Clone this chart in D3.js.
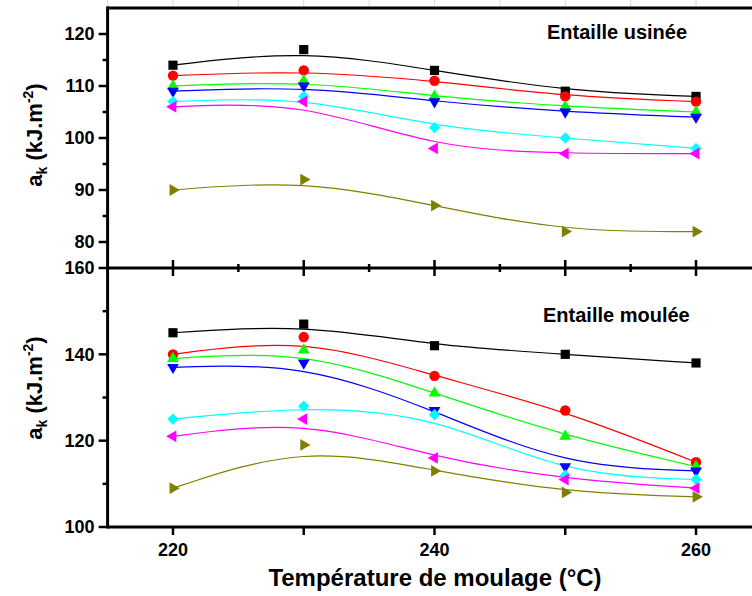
<!DOCTYPE html>
<html>
<head>
<meta charset="utf-8">
<title>Résilience en fonction de la température de moulage</title>
<style>
body { margin: 0; background: #fff; }
svg { display: block; }
text { font-family: "Liberation Sans", Arial, sans-serif; font-weight: bold; fill: #000; }
</style>
</head>
<body>
<svg id="chart" width="752" height="596"></svg>
<script src="https://d3js.org/d3.v7.min.js"></script>
<script>
// temperatures de moulage (°C)
var temps = [220, 230, 240, 250, 260];
var xTicks = [220, 230, 240, 250, 260];
var xLabels = [220, 240, 260];

// Entaille usinée  (a_k, kJ/m²)
var usinee1 = [114, 117, 113, 109, 108];
var usinee2 = [112, 113, 111, 108, 107];
var usinee3 = [110, 111, 108, 106, 105];
var usinee4 = [109, 110, 107, 105, 104];
var usinee5 = [107, 108, 102, 100, 98];
var usinee6 = [106, 107, 98, 97, 97];
var usinee7 = [90, 92, 87, 82, 82];

// Entaille moulée
var moulee1 = [145, 147, 142, 140, 138];
var moulee2 = [140, 144, 135, 127, 115];
var moulee3 = [139, 141, 131, 121, 114];
var moulee4 = [137, 138, 127, 114, 113];
var moulee5 = [125, 128, 126, 112, 111];
var moulee6 = [121, 125, 116, 111, 109];
var moulee7 = [109, 119, 113, 108, 107];

var topTicks = [80, 90, 100, 110, 120];
var botTicks = [100, 120, 140, 160];

var colors = ["#000000", "#ff0000", "#00ff00", "#0000ff", "#00ffff", "#ff00ff", "#808000"];
var shapes = ["square", "circle", "up", "down", "diamond", "left", "right"];

var svg = d3.select("#chart");

var x = d3.scaleLinear().domain([215, 265]).range([107.6, 761.4]);
var yTop = d3.scaleLinear().domain([75, 125]).range([268, 8]);
var yBot = d3.scaleLinear().domain([100, 160]).range([527, 268]);

function symbolPath(shape) {
    var sym = d3.symbol();
    if (shape == "square") return sym.type(d3.symbolSquare).size(84)();
    if (shape == "circle") return sym.type(d3.symbolCircle).size(85)();
    if (shape == "diamond") return sym.type(d3.symbolSquare).size(64)();
    return sym.type(d3.symbolTriangle).size(60)();
}
function symbolRotate(shape) {
    if (shape == "down") return 180;
    if (shape == "left") return -90;
    if (shape == "right") return 90;
    if (shape == "diamond") return 45;
    return 0;
}

function drawPanel(series, y) {
    var g = svg.append("g");
    var line = d3.line()
        .x(function(d, i) { return x(temps[i]); })
        .y(function(d) { return y(d); })
        .curve(d3.curveBasis);

    series.forEach(function(vals, k) {
        g.append("path")
            .attr("d", line(vals))
            .style("fill", "none")
            .style("stroke", colors[k])
            .style("stroke-width", 1.2);
    });
    series.forEach(function(vals, k) {
        g.selectAll(null)
            .data(vals)
            .enter()
            .append("path")
            .attr("d", symbolPath(shapes[k]))
            .attr("transform", function(d, i) {
                return "translate(" + x(temps[i]) + "," + y(d) + ") rotate(" + symbolRotate(shapes[k]) + ")";
            })
            .style("fill", colors[k]);
    });
}

drawPanel([usinee1, usinee2, usinee3, usinee4, usinee5, usinee6, usinee7], yTop);
drawPanel([moulee1, moulee2, moulee3, moulee4, moulee5, moulee6, moulee7], yBot);

// faint top ticks
svg.append("g")
    .selectAll("line")
    .data(d3.range(215, 266, 5))
    .enter().append("line")
    .attr("x1", d => x(d)).attr("x2", d => x(d))
    .attr("y1", 0).attr("y2", 8)
    .style("stroke", "#d8d8d8").style("stroke-width", 1);

// axes
var frame = svg.append("g").style("stroke", "#000").style("stroke-width", 3).style("fill", "none");
frame.append("line").attr("x1", x(215)).attr("x2", x(265)).attr("y1", yTop(125)).attr("y2", yTop(125));
frame.append("line").attr("x1", x(215)).attr("x2", x(265)).attr("y1", yTop(75)).attr("y2", yTop(75));
frame.append("line").attr("x1", x(215)).attr("x2", x(265)).attr("y1", yBot(100)).attr("y2", yBot(100));
frame.append("line").attr("x1", x(215)).attr("x2", x(215)).attr("y1", yTop(125) - 1.5).attr("y2", yBot(100) + 1.5);

function yAxis(scale, major, minor) {
    var g = svg.append("g").attr("transform", "translate(" + x(215) + ",0)");
    major.forEach(function(v) {
        g.append("line").attr("x1", -9).attr("x2", 0).attr("y1", scale(v)).attr("y2", scale(v))
            .style("stroke", "#000").style("stroke-width", 2.5);
        g.append("text").attr("x", -13).attr("y", scale(v)).attr("dy", "0.36em")
            .attr("text-anchor", "end").style("font-size", "18px").text(v);
    });
    minor.forEach(function(v) {
        g.append("line").attr("x1", -5).attr("x2", 0).attr("y1", scale(v)).attr("y2", scale(v))
            .style("stroke", "#000").style("stroke-width", 2.5);
    });
}
yAxis(yTop, topTicks, [85, 95, 105, 115]);
yAxis(yBot, botTicks, [110, 130, 150]);

// ticks on the boundary between panels
var mid = svg.append("g");
xTicks.forEach(function(v) {
    mid.append("line").attr("x1", x(v)).attr("x2", x(v)).attr("y1", yTop(75) - 8).attr("y2", yTop(75) + 8)
        .style("stroke", "#000").style("stroke-width", 2.5);
});
[225, 235, 245, 255].forEach(function(v) {
    mid.append("line").attr("x1", x(v)).attr("x2", x(v)).attr("y1", yTop(75) - 4).attr("y2", yTop(75) + 4)
        .style("stroke", "#000").style("stroke-width", 2.5);
});

// bottom axis
var bx = svg.append("g");
xTicks.forEach(function(v) {
    bx.append("line").attr("x1", x(v)).attr("x2", x(v)).attr("y1", yBot(100)).attr("y2", yBot(100) + 8)
        .style("stroke", "#000").style("stroke-width", 2.5);
});
xLabels.forEach(function(v) {
    bx.append("text").attr("x", x(v)).attr("y", 556).attr("text-anchor", "middle")
        .style("font-size", "18px").text(v);
});

svg.append("text").attr("x", 435).attr("y", 586).attr("text-anchor", "middle")
    .style("font-size", "24px").text("Température de moulage (°C)");

function yTitle(cy) {
    var t = svg.append("text")
        .attr("transform", "translate(42," + cy + ") rotate(-90)")
        .attr("text-anchor", "middle")
        .style("font-size", "22px");
    t.append("tspan").text("a");
    t.append("tspan").attr("dy", 5).style("font-size", "14px").text("k");
    t.append("tspan").attr("dy", -5).text(" (kJ.m");
    t.append("tspan").attr("dy", -9).style("font-size", "14px").text("-2");
    t.append("tspan").attr("dy", 9).text(")");
}
yTitle(135);
yTitle(388);

svg.append("text").attr("x", 547).attr("y", 39).style("font-size", "20px").text("Entaille usinée");
svg.append("text").attr("x", 543).attr("y", 322).style("font-size", "20px").text("Entaille moulée");
</script>
</body>
</html>
